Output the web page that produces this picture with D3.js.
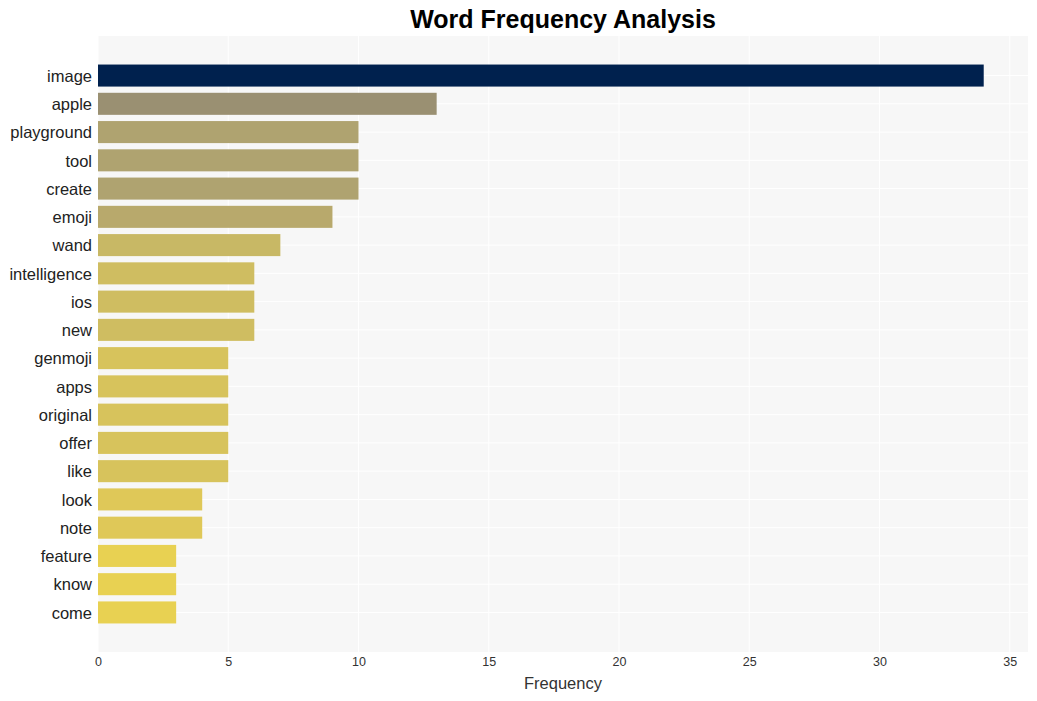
<!DOCTYPE html>
<html><head><meta charset="utf-8">
<script src="https://cdn.jsdelivr.net/npm/d3@7"></script>
<style>body{margin:0;background:#fff;}svg{display:block;font-family:"Liberation Sans",Arial,sans-serif;}</style>
</head><body><svg id="c" width="1037" height="701"></svg>
<script>
const categories = ["image","apple","playground","tool","create","emoji","wand","intelligence","ios","new","genmoji","apps","original","offer","like","look","note","feature","know","come"];
const values = [34,13,10,10,10,9,7,6,6,6,5,5,5,5,5,4,4,3,3,3];
const xTicks = [0,5,10,15,20,25,30,35];
const title = "Word Frequency Analysis";
const xLabel = "Frequency";

const svg = d3.select("#c");
const L = 98, R = 1028, T = 36, B = 652;
const x = d3.scaleLinear().domain([0, 35.7]).range([L, R]);
const y = d3.scaleBand().domain(categories).range([T, B]).paddingInner(0.22).paddingOuter(1.01);
const color = d3.scaleLinear()
  .domain([3,4,5,6,7,9,10,13,33.9,34])
  .range(["#e8d152","#dfc858","#d7c35c","#cfbd61","#c8b865","#b8a96c","#afa370","#9a9072","#9a9072","#00214e"]);

svg.append("rect").attr("x",L).attr("y",T).attr("width",R-L).attr("height",B-T).attr("fill","#f7f7f7");

// grid
svg.append("g").selectAll("line").data(xTicks).join("line")
  .attr("x1",d=>x(d)).attr("x2",d=>x(d)).attr("y1",T).attr("y2",B)
  .attr("stroke","#ffffff").attr("stroke-width",1);
svg.append("g").selectAll("line").data(categories).join("line")
  .attr("x1",L).attr("x2",R).attr("y1",d=>y(d)+y.bandwidth()/2).attr("y2",d=>y(d)+y.bandwidth()/2)
  .attr("stroke","#ffffff").attr("stroke-width",1);

// bars
svg.append("g").selectAll("rect").data(categories).join("rect")
  .attr("x",x(0)).attr("y",d=>y(d))
  .attr("width",(d,i)=>x(values[i])-x(0)).attr("height",y.bandwidth())
  .attr("fill",(d,i)=>color(values[i]));

// y axis labels
const ya = svg.append("g").attr("transform",`translate(${L},1)`)
  .call(d3.axisLeft(y).tickSize(0).tickPadding(6));
ya.select(".domain").remove();
ya.selectAll("text").attr("font-size",16.5).attr("fill","#222").attr("font-family","Liberation Sans, Arial, sans-serif");

// x axis
const xa = svg.append("g").attr("transform",`translate(0,${B})`)
  .call(d3.axisBottom(x).tickValues(xTicks).tickSize(0).tickPadding(5));
xa.select(".domain").remove();
xa.selectAll("text").attr("font-size",12.5).attr("fill","#333").attr("font-family","Liberation Sans, Arial, sans-serif");

svg.append("text").attr("x",(L+R)/2).attr("y",689).attr("text-anchor","middle")
  .attr("font-size",16.5).attr("fill","#333").text(xLabel);
svg.append("text").attr("x",(L+R)/2).attr("y",28).attr("text-anchor","middle")
  .attr("font-size",25).attr("font-weight","bold").attr("fill","#000").text(title);
</script></body></html>
